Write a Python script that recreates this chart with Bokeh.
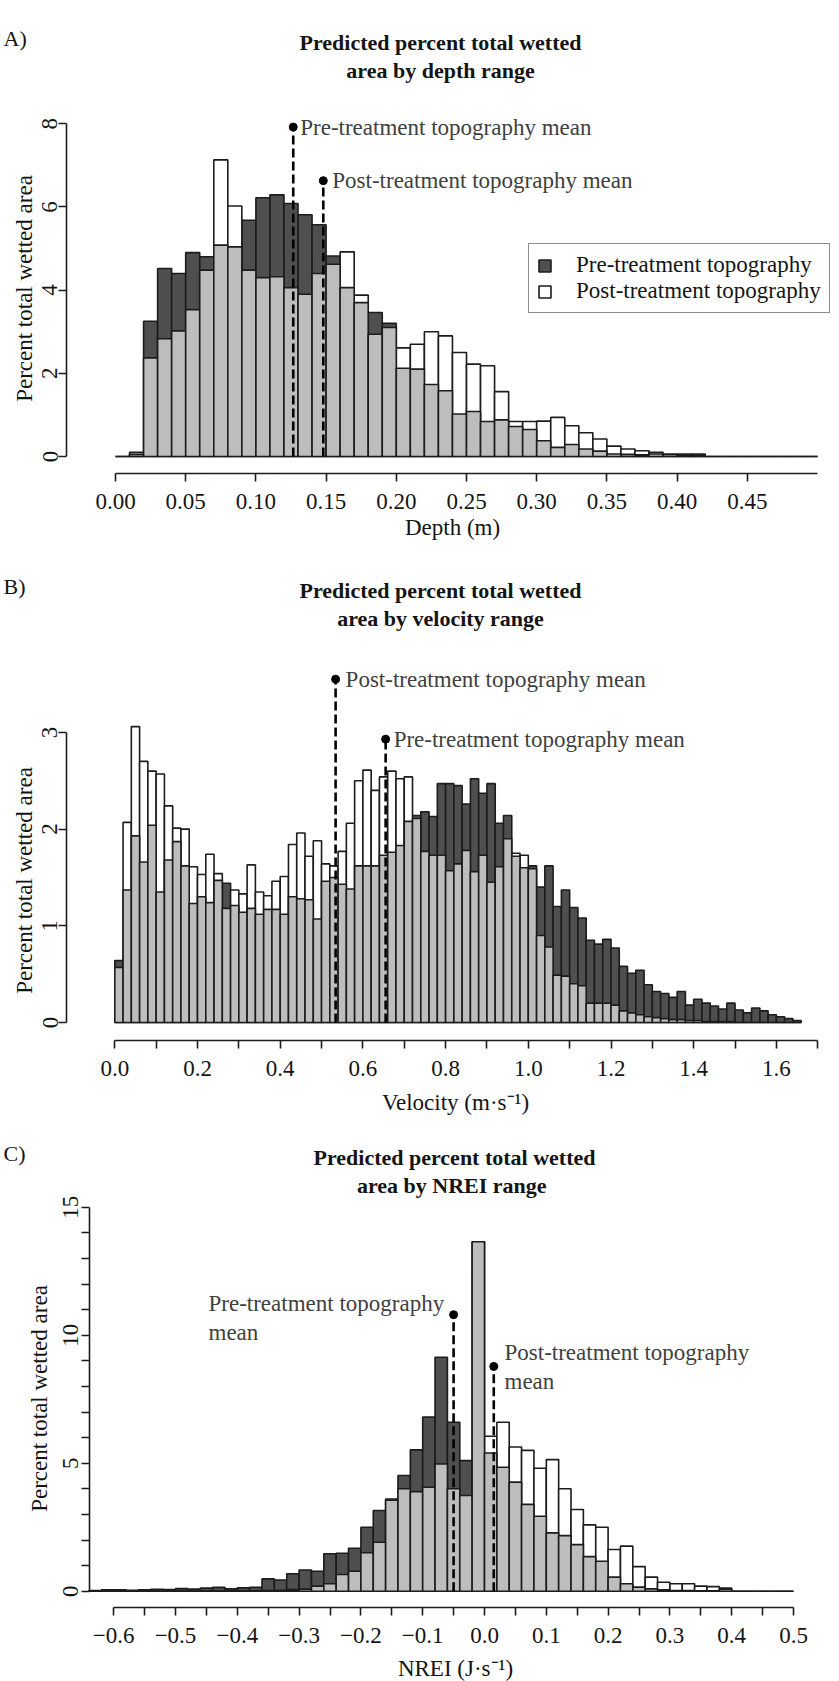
import math
from bokeh.plotting import figure
from bokeh.models import ColumnDataSource, FixedTicker, Label, Legend, LegendItem, Range1d
from bokeh.layouts import column
from bokeh.embed import file_html
from bokeh.resources import INLINE

FONT = "Liberation Serif"
PRE_COLOR = "#4f4f4f"
POST_COLOR = "#ffffff"
OVER_COLOR = "#bdbdbd"
EDGE = "#1c1c1c"
NOTE_COLOR = "#404040"
INK = "#141414"

# ---------------- Panel A: depth ----------------
depth_bin_start = 0.0
depth_bin_width = 0.01
depth_pre = [0.00, 0.05, 3.25, 4.52, 4.40, 4.90, 4.80, 5.08, 5.04, 5.68,
             6.22, 6.29, 6.08, 5.81, 5.57, 4.82, 4.06, 3.70, 3.46, 3.20,
             2.12, 2.10, 1.73, 1.58, 1.02, 1.08, 0.84, 0.88, 0.72, 0.65,
             0.38, 0.22, 0.29, 0.18, 0.13, 0.06, 0.05, 0.04, 0.06, 0.05,
             0.06, 0.06, 0.00, 0.00, 0.00, 0.00, 0.00, 0.00, 0.00, 0.00]
depth_post = [0.00, 0.10, 2.37, 2.83, 3.02, 3.53, 4.48, 7.13, 6.02, 4.48,
              4.30, 4.32, 4.06, 3.90, 4.40, 4.62, 4.92, 3.88, 2.94, 3.10,
              2.61, 2.70, 3.00, 2.90, 2.50, 2.22, 2.18, 1.56, 0.84, 0.84,
              0.85, 0.94, 0.74, 0.57, 0.42, 0.25, 0.18, 0.14, 0.10, 0.05,
              0.03, 0.02, 0.00, 0.00, 0.00, 0.00, 0.00, 0.00, 0.00, 0.00]
depth_pre_mean = 0.1266
depth_post_mean = 0.148
depth_pre_mark = 7.92
depth_post_mark = 6.63
depth_xticks = [0.0, 0.05, 0.1, 0.15, 0.2, 0.25, 0.3, 0.35, 0.4, 0.45]
depth_xlabels = ["0.00", "0.05", "0.10", "0.15", "0.20", "0.25", "0.30", "0.35", "0.40", "0.45"]
depth_yticks = [0, 2, 4, 6, 8]
depth_ylabels = ["0", "2", "4", "6", "8"]

# ---------------- Panel B: velocity ----------------
vel_bin_start = 0.0
vel_bin_width = 0.02
vel_pre = [0.64, 1.37, 1.93, 1.66, 2.04, 1.35, 1.68, 1.87, 1.62, 1.23,
           1.30, 1.24, 1.47, 1.44, 1.21, 1.14, 1.18, 1.12, 1.17, 1.17,
           1.12, 1.30, 1.28, 1.27, 1.07, 1.46, 1.50, 1.43, 1.38, 1.62,
           1.62, 1.62, 1.73, 1.76, 1.83, 2.08, 2.14, 2.18, 2.13, 2.47,
           2.47, 2.45, 2.26, 2.52, 2.37, 2.47, 2.06, 2.14, 1.72, 1.60,
           1.62, 1.40, 1.62, 1.20, 1.37, 1.19, 1.08, 0.85, 0.81, 0.86,
           0.77, 0.58, 0.51, 0.54, 0.39, 0.32, 0.30, 0.26, 0.32, 0.18,
           0.24, 0.20, 0.17, 0.14, 0.20, 0.13, 0.10, 0.15, 0.12, 0.08,
           0.06, 0.04, 0.02]
vel_post = [0.57, 2.07, 3.06, 2.70, 2.60, 2.57, 2.24, 2.01, 2.00, 1.61,
            1.53, 1.74, 1.54, 1.18, 1.37, 1.33, 1.63, 1.35, 1.31, 1.46,
            1.51, 1.84, 1.96, 1.72, 1.88, 1.64, 1.62, 1.77, 2.06, 2.50,
            2.61, 2.40, 2.54, 2.60, 2.52, 2.54, 2.11, 1.77, 1.73, 1.73,
            1.57, 1.64, 1.78, 1.56, 1.73, 1.45, 1.61, 1.90, 1.75, 1.73,
            1.59, 0.90, 0.78, 0.49, 0.48, 0.40, 0.38, 0.20, 0.20, 0.20,
            0.18, 0.12, 0.10, 0.08, 0.06, 0.05, 0.04, 0.03, 0.03, 0.02,
            0.02, 0.01, 0.01, 0.01, 0.01, 0.00, 0.00, 0.00, 0.00, 0.00,
            0.00, 0.00, 0.00]
vel_pre_mean = 0.655
vel_post_mean = 0.534
vel_pre_mark = 2.93
vel_post_mark = 3.55
vel_xticks = [0.0, 0.1, 0.2, 0.3, 0.4, 0.5, 0.6, 0.7, 0.8, 0.9,
              1.0, 1.1, 1.2, 1.3, 1.4, 1.5, 1.6, 1.7]
vel_xlabels = ["0.0", "", "0.2", "", "0.4", "", "0.6", "", "0.8", "",
               "1.0", "", "1.2", "", "1.4", "", "1.6", ""]
vel_yticks = [0, 1, 2, 3]
vel_ylabels = ["0", "1", "2", "3"]

# ---------------- Panel C: NREI ----------------
nrei_bin_start = -0.64
nrei_bin_width = 0.02
nrei_pre = [0.03, 0.05, 0.05, 0.04, 0.05, 0.07, 0.06, 0.10, 0.08, 0.12,
            0.15, 0.09, 0.13, 0.15, 0.48, 0.44, 0.68, 0.83, 0.78, 1.46,
            1.48, 1.68, 2.50, 3.15, 3.60, 4.52, 5.52, 6.80, 9.14, 6.60,
            5.10, 13.65, 5.40, 4.84, 4.26, 3.39, 2.93, 2.28, 2.17, 1.82,
            1.35, 1.17, 0.55, 0.29, 0.16, 0.09, 0.05, 0.03, 0.03, 0.02,
            0.02, 0.12, 0.00, 0.00, 0.00, 0.00, 0.00]
nrei_post = [0.00, 0.00, 0.00, 0.00, 0.01, 0.00, 0.01, 0.01, 0.01, 0.01,
             0.01, 0.02, 0.02, 0.02, 0.03, 0.04, 0.06, 0.08, 0.20, 0.29,
             0.65, 0.78, 1.50, 1.91, 3.55, 4.00, 3.89, 4.06, 4.97, 4.00,
             3.74, 13.65, 6.05, 6.60, 5.63, 5.50, 4.80, 5.14, 4.00, 3.19,
             2.59, 2.50, 1.63, 1.76, 0.96, 0.55, 0.35, 0.29, 0.29, 0.20,
             0.18, 0.08, 0.00, 0.00, 0.00, 0.00, 0.00]
nrei_pre_mean = -0.050
nrei_post_mean = 0.015
nrei_pre_mark = 10.8
nrei_post_mark = 8.78
nrei_xticks = [-0.6, -0.55, -0.5, -0.45, -0.4, -0.35, -0.3, -0.25, -0.2, -0.15, -0.1, -0.05,
               0.0, 0.05, 0.1, 0.15, 0.2, 0.25, 0.3, 0.35, 0.4, 0.45, 0.5]
nrei_xlabels = ["\u22120.6", "", "\u22120.5", "", "\u22120.4", "", "\u22120.3", "", "\u22120.2", "",
                "\u22120.1", "", "0.0", "", "0.1", "", "0.2", "", "0.3", "", "0.4", "", "0.5"]
nrei_yticks = [0, 1, 2, 3, 4, 5, 6, 7, 8, 9, 10, 11, 12, 13, 14, 15]
nrei_ylabels = ["0", "", "", "", "", "5", "", "", "", "", "10", "", "", "", "", "15"]


class Panel:
    """One figure whose frame covers the whole panel; maps page pixels to data."""

    def __init__(self, fig_top, fig_h, x_px0, x_val0, x_scale, y_px0, y_scale):
        self.fig_top, self.fig_h = fig_top, fig_h
        self.x_px0, self.x_val0, self.x_scale = x_px0, x_val0, x_scale
        self.y_px0, self.y_scale = y_px0, y_scale
        p = figure(width=839, height=fig_h, output_backend="svg", toolbar_location=None,
                   x_range=Range1d(self.X(0), self.X(839)),
                   y_range=Range1d(self.Y(fig_top + fig_h), self.Y(fig_top)))
        p.title.visible = False
        p.min_border_left = 0
        p.min_border_right = 0
        p.min_border_top = 0
        p.min_border_bottom = 0
        p.outline_line_color = None
        p.xgrid.grid_line_color = None
        p.ygrid.grid_line_color = None
        p.background_fill_color = "white"
        p.border_fill_color = "white"
        self.p = p

    def X(self, px):
        return self.x_val0 + (px - self.x_px0) / self.x_scale

    def Y(self, py):
        return (self.y_px0 - py) / self.y_scale


def style_axes(pn, axis_x_px, axis_y_px, xt, xl, xb, yt, yl, yb, x_standoff, y_standoff):
    p = pn.p
    for ax in (p.xaxis[0], p.yaxis[0]):
        ax.axis_line_color = EDGE
        ax.axis_line_width = 1.6
        ax.major_tick_line_color = EDGE
        ax.major_tick_line_width = 1.6
        ax.major_tick_out = 8
        ax.major_tick_in = 0
        ax.minor_tick_out = 0
        ax.minor_tick_in = 0
        ax.major_label_text_font = FONT
        ax.major_label_text_font_size = "23px"
        ax.major_label_text_color = INK
    p.xaxis.fixed_location = pn.Y(axis_y_px)
    p.xaxis.ticker = FixedTicker(ticks=xt, minor_ticks=[])
    p.xaxis.major_label_overrides = {t: s for t, s in zip(xt, xl)}
    p.xaxis.bounds = xb
    p.xaxis.major_label_standoff = x_standoff
    p.yaxis.fixed_location = pn.X(axis_x_px)
    p.yaxis.ticker = FixedTicker(ticks=yt, minor_ticks=[])
    p.yaxis.major_label_overrides = {t: s for t, s in zip(yt, yl)}
    p.yaxis.bounds = yb
    p.yaxis.major_label_orientation = "vertical"
    p.yaxis.major_label_standoff = y_standoff


def draw_bars(p, start, width, pre, post):
    n = len(pre)
    left = [start + i * width for i in range(n)]
    right = [l + width for l in left]
    pre_hi = [i for i in range(n) if pre[i] > post[i]]
    post_hi = [i for i in range(n) if pre[i] <= post[i]]
    src_pre = ColumnDataSource(dict(left=[left[i] for i in pre_hi], right=[right[i] for i in pre_hi],
                                    top=[pre[i] for i in pre_hi]))
    src_post = ColumnDataSource(dict(left=[left[i] for i in post_hi], right=[right[i] for i in post_hi],
                                     top=[post[i] for i in post_hi]))
    src_over = ColumnDataSource(dict(left=left, right=right, top=[min(a, b) for a, b in zip(pre, post)]))
    kw = dict(left="left", right="right", top="top", bottom=0, line_color=EDGE, line_width=1.6)
    r_pre = p.quad(source=src_pre, fill_color=PRE_COLOR, **kw)
    r_post = p.quad(source=src_post, fill_color=POST_COLOR, **kw)
    p.quad(source=src_over, fill_color=OVER_COLOR, **kw)
    return r_pre, r_post


def mean_marker(p, x, h):
    p.segment(x0=[x], y0=[0], x1=[x], y1=[h], line_color="black", line_width=2.6, line_dash="9 4")
    p.scatter(x=[x], y=[h], size=8, color="black")


def note(p, x, y, text, align="left", x_offset=0):
    p.add_layout(Label(x=x, y=y, text=text, x_offset=x_offset, text_align=align, text_baseline="middle",
                       text_font=FONT, text_font_size="23px", text_color=NOTE_COLOR))


def text_at(pn, px, py, text, size="23px", style="normal", align="center", angle=0.0, color=INK):
    pn.p.add_layout(Label(x=pn.X(px), y=pn.Y(py), text=text, text_align=align, text_baseline="middle",
                          angle=angle, text_font=FONT, text_font_size=size, text_font_style=style,
                          text_color=color))


def headline(pn, cx, y1, y2, line1, line2, tag):
    text_at(pn, cx, y1, line1, size="22px", style="bold")
    text_at(pn, cx, y2, line2, size="22px", style="bold")
    text_at(pn, 3, y1 - 4, tag, size="22px", align="left")


# ---------- Panel A ----------
A = Panel(fig_top=0, fig_h=550, x_px0=115, x_val0=0.0, x_scale=1404, y_px0=456, y_scale=41.6)
pa = A.p
ra_pre, ra_post = draw_bars(pa, depth_bin_start, depth_bin_width, depth_pre, depth_post)
mean_marker(pa, depth_pre_mean, depth_pre_mark)
mean_marker(pa, depth_post_mean, depth_post_mark)
note(pa, depth_pre_mean, depth_pre_mark, "Pre-treatment topography mean", x_offset=7)
note(pa, depth_post_mean, depth_post_mark, "Post-treatment topography mean", x_offset=9)
style_axes(A, 66, 473, depth_xticks, depth_xlabels, (0, 0.5), depth_yticks, depth_ylabels, (0, 8), 12, 1)
text_at(A, 452, 527, "Depth (m)")
text_at(A, 24, 288, "Percent total wetted area", angle=math.pi / 2)
headline(A, 440, 42, 70, "Predicted percent total wetted", "area by depth range", "A)")
legend = Legend(items=[LegendItem(label="Pre-treatment topography", renderers=[ra_pre]),
                       LegendItem(label="Post-treatment topography", renderers=[ra_post])],
                location=(528, 550 - 313))
legend.margin = 0
legend.padding = 8
legend.spacing = 0
legend.glyph_width = 15
legend.glyph_height = 15
legend.label_standoff = 24
legend.label_height = 24
legend.label_text_font = FONT
legend.label_text_font_size = "23px"
legend.label_text_color = INK
legend.border_line_color = EDGE
legend.border_line_width = 1.6
legend.background_fill_alpha = 1.0
pa.add_layout(legend)

# ---------- Panel B ----------
B = Panel(fig_top=550, fig_h=575, x_px0=114.3, x_val0=0.0, x_scale=413.5, y_px0=1022, y_scale=96.7)
pb = B.p
draw_bars(pb, vel_bin_start, vel_bin_width, vel_pre, vel_post)
mean_marker(pb, vel_post_mean, vel_post_mark)
mean_marker(pb, vel_pre_mean, vel_pre_mark)
note(pb, vel_post_mean, vel_post_mark, "Post-treatment topography mean", x_offset=10)
note(pb, vel_pre_mean, vel_pre_mark, "Pre-treatment topography mean", x_offset=8)
style_axes(B, 66, 1040, vel_xticks, vel_xlabels, (0, 1.7), vel_yticks, vel_ylabels, (0, 3), 12, 1)
text_at(B, 455, 1102, "Velocity (m\u00b7s\u207b\u00b9)")
text_at(B, 24, 880, "Percent total wetted area", angle=math.pi / 2)
headline(B, 440, 590, 618, "Predicted percent total wetted", "area by velocity range", "B)")

# ---------- Panel C ----------
C = Panel(fig_top=1125, fig_h=556, x_px0=484, x_val0=0.0, x_scale=618, y_px0=1590.7, y_scale=25.6)
pc = C.p
draw_bars(pc, nrei_bin_start, nrei_bin_width, nrei_pre, nrei_post)
mean_marker(pc, nrei_pre_mean, nrei_pre_mark)
mean_marker(pc, nrei_post_mean, nrei_post_mark)
note(pc, C.X(208), C.Y(1303), "Pre-treatment topography")
note(pc, C.X(208), C.Y(1332), "mean")
note(pc, C.X(504), C.Y(1352), "Post-treatment topography")
note(pc, C.X(504), C.Y(1381), "mean")
style_axes(C, 89, 1607, nrei_xticks, nrei_xlabels, (-0.6, 0.5), nrei_yticks, nrei_ylabels, (0, 15), 12, 3)
text_at(C, 455, 1668, "NREI (J\u00b7s\u207b\u00b9)")
text_at(C, 39, 1398, "Percent total wetted area", angle=math.pi / 2)
headline(C, 454, 1157, 1185, "Predicted percent total wetted", "area  by NREI range", "C)")

layout = column(pa, pb, pc, spacing=0)
open("out.html", "w").write(file_html(layout, INLINE))
